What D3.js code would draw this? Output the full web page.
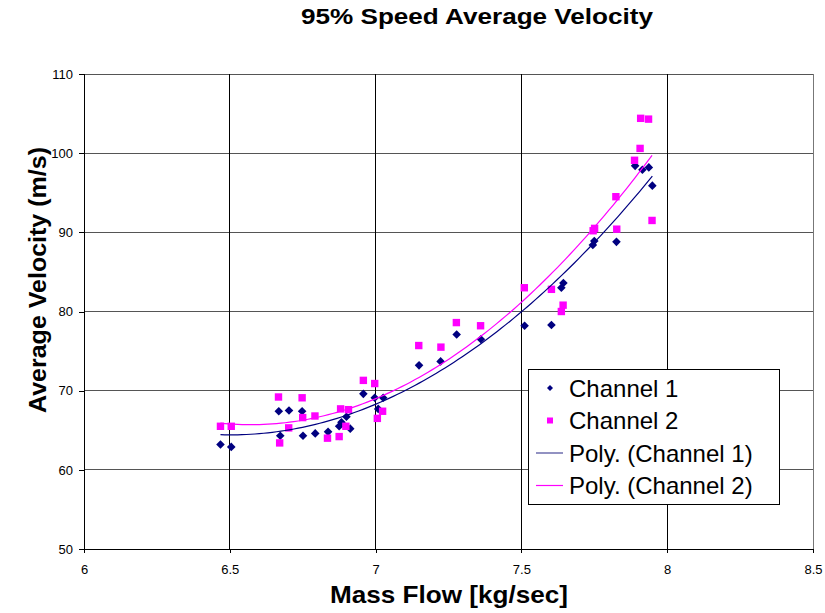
<!DOCTYPE html>
<html>
<head>
<meta charset="utf-8">
<script src="https://cdn.jsdelivr.net/npm/d3@7"></script>
<style>
  body { margin: 0; background: #fff; }
  text { font-family: "Liberation Sans", Arial, sans-serif; }
</style>
</head>
<body>
<svg id="chart" width="825" height="613"></svg>
<script>
// Channel 1 (navy diamonds)
const ch1X = [6.468, 6.505, 6.668, 6.673, 6.703, 6.748, 6.751, 6.793, 6.837, 6.875, 6.883, 6.900, 6.913, 6.958, 6.997, 7.009, 7.026, 7.149, 7.223, 7.278, 7.361, 7.511, 7.603, 7.637, 7.644, 7.745, 7.750, 7.826, 7.890, 7.915, 7.937, 7.949];
const ch1Y = [63.2, 62.9, 67.4, 64.3, 67.5, 67.4, 64.3, 64.6, 64.8, 65.5, 66.0, 66.7, 65.2, 69.6, 69.1, 67.7, 69.1, 73.2, 73.7, 77.1, 76.5, 78.2, 78.3, 83.0, 83.6, 88.4, 88.9, 88.8, 98.4, 97.9, 98.2, 95.9];
// Channel 2 (magenta squares)
const ch2X = [6.468, 6.505, 6.667, 6.671, 6.702, 6.748, 6.750, 6.792, 6.835, 6.875, 6.880, 6.898, 6.907, 6.958, 6.997, 7.006, 7.024, 7.148, 7.224, 7.277, 7.360, 7.510, 7.603, 7.637, 7.643, 7.746, 7.751, 7.824, 7.827, 7.888, 7.907, 7.909, 7.936, 7.948];
const ch2Y = [65.5, 65.5, 69.2, 63.4, 65.3, 69.1, 66.6, 66.8, 64.0, 64.2, 67.7, 65.5, 67.6, 71.3, 70.9, 66.5, 67.4, 75.7, 75.5, 78.6, 78.2, 83.0, 82.8, 80.0, 80.8, 90.2, 90.5, 94.5, 90.4, 99.1, 100.6, 104.4, 104.3, 91.5];

const xTicks = [6, 6.5, 7, 7.5, 8, 8.5];
const yTicks = [50, 60, 70, 80, 90, 100, 110];
const legendLabels = ["Channel 1", "Channel 2", "Poly. (Channel 1)", "Poly. (Channel 2)"];

const navy = "#000080", magenta = "#ff00ff";
const svg = d3.select("#chart");
const plotL = 84, plotR = 813, plotT = 74, plotB = 549;

const x = d3.scaleLinear().domain([6, 8.5]).range([plotL, plotR]);
const y = d3.scaleLinear().domain([50, 110]).range([plotB, plotT]);

// grid
svg.append("g").selectAll("line").data(yTicks).join("line")
  .attr("x1", plotL).attr("x2", plotR)
  .attr("y1", d => y(d)).attr("y2", d => y(d))
  .attr("stroke", d => d === 50 ? "#000" : "#555").attr("stroke-width", 1)
  .attr("shape-rendering", "crispEdges");
svg.append("g").selectAll("line").data(xTicks).join("line")
  .attr("x1", d => x(d)).attr("x2", d => x(d))
  .attr("y1", plotT).attr("y2", plotB)
  .attr("stroke", d => d === 8.5 ? "#777" : "#000").attr("stroke-width", 1)
  .attr("shape-rendering", "crispEdges");

// axes
const xAxis = svg.append("g").attr("transform", `translate(0,${plotB})`)
  .call(d3.axisBottom(x).tickValues(xTicks).tickSize(4).tickPadding(12).tickFormat(d3.format("")));
const yAxis = svg.append("g").attr("transform", `translate(${plotL},0)`)
  .call(d3.axisLeft(y).tickValues(yTicks).tickSize(5).tickPadding(6));
[xAxis, yAxis].forEach(a => {
  a.select(".domain").attr("stroke", "#000").attr("shape-rendering", "crispEdges");
  a.selectAll(".tick line").attr("stroke", "#000").attr("shape-rendering", "crispEdges");
  a.selectAll("text").attr("font-size", 13).attr("fill", "#000")
    .attr("font-family", "'Liberation Sans', Arial, sans-serif");
});

// quadratic least-squares trendline
function polyFit(xs, ys) {
  const m = d3.mean(xs);
  let s = [0, 0, 0, 0, 0], t = [0, 0, 0];
  xs.forEach((xv, i) => {
    const u = xv - m;
    for (let k = 0; k < 5; k++) s[k] += Math.pow(u, k);
    for (let k = 0; k < 3; k++) t[k] += ys[i] * Math.pow(u, k);
  });
  const A = [[s[0], s[1], s[2], t[0]], [s[1], s[2], s[3], t[1]], [s[2], s[3], s[4], t[2]]];
  for (let i = 0; i < 3; i++) {
    for (let j = i + 1; j < 3; j++) {
      const f = A[j][i] / A[i][i];
      for (let k = i; k < 4; k++) A[j][k] -= f * A[i][k];
    }
  }
  const c = [0, 0, 0];
  for (let i = 2; i >= 0; i--) {
    let v = A[i][3];
    for (let k = i + 1; k < 3; k++) v -= A[i][k] * c[k];
    c[i] = v / A[i][i];
  }
  return xv => c[0] + c[1] * (xv - m) + c[2] * (xv - m) * (xv - m);
}

const line = d3.line().x(d => x(d[0])).y(d => y(d[1]));
function drawTrend(xs, ys, color) {
  const f = polyFit(xs, ys);
  const [lo, hi] = d3.extent(xs);
  const pts = d3.range(0, 101).map(i => {
    const xv = lo + (hi - lo) * i / 100;
    return [xv, f(xv)];
  });
  svg.append("path").datum(pts).attr("d", line)
    .attr("fill", "none").attr("stroke", color).attr("stroke-width", 1.2);
}

const diamond = "M0,-4.3L4.3,0L0,4.3L-4.3,0Z";

// points
svg.append("g").selectAll("path").data(ch1X.map((d, i) => [d, ch1Y[i]])).join("path")
  .attr("d", diamond)
  .attr("transform", d => `translate(${x(d[0])},${y(d[1])})`)
  .attr("fill", navy);
svg.append("g").selectAll("rect").data(ch2X.map((d, i) => [d, ch2Y[i]])).join("rect")
  .attr("x", d => x(d[0]) - 3.7).attr("y", d => y(d[1]) - 3.7)
  .attr("width", 7.4).attr("height", 7.4)
  .attr("fill", magenta);

drawTrend(ch1X, ch1Y, navy);
drawTrend(ch2X, ch2Y, magenta);

// legend
const lg = svg.append("g");
lg.append("rect").attr("x", 528.5).attr("y", 369.5).attr("width", 251).attr("height", 135)
  .attr("fill", "#fff").attr("stroke", "#000");
const rowY = [388, 420.5, 453, 485.5];
lg.append("path").attr("d", "M0,-3L3,0L0,3L-3,0Z")
  .attr("transform", `translate(550,${rowY[0]})`).attr("fill", navy);
lg.append("rect").attr("x", 547).attr("y", rowY[1] - 3).attr("width", 6).attr("height", 6).attr("fill", magenta);
lg.append("line").attr("x1", 536).attr("x2", 563).attr("y1", rowY[2]).attr("y2", rowY[2])
  .attr("stroke", "#4a4a9a").attr("stroke-width", 1.2);
lg.append("line").attr("x1", 536).attr("x2", 563).attr("y1", rowY[3]).attr("y2", rowY[3])
  .attr("stroke", magenta).attr("stroke-width", 1.2);
lg.selectAll("text.lab").data(legendLabels).join("text")
  .attr("class", "lab")
  .attr("x", 569).attr("y", (d, i) => rowY[i] + 8.5)
  .attr("font-size", 24).attr("fill", "#000")
  .text(d => d);

// titles
svg.append("text").attr("x", 477).attr("y", 24).attr("text-anchor", "middle")
  .attr("font-size", 22).attr("font-weight", "bold")
  .attr("textLength", 352).attr("lengthAdjust", "spacingAndGlyphs")
  .text("95% Speed Average Velocity");
svg.append("text").attr("x", 449).attr("y", 603).attr("text-anchor", "middle")
  .attr("font-size", 24).attr("font-weight", "bold")
  .attr("textLength", 238).attr("lengthAdjust", "spacingAndGlyphs")
  .text("Mass Flow [kg/sec]");
svg.append("text").attr("transform", "translate(46,280) rotate(-90)").attr("text-anchor", "middle")
  .attr("font-size", 24).attr("font-weight", "bold")
  .attr("textLength", 266).attr("lengthAdjust", "spacingAndGlyphs")
  .text("Average Velocity (m/s)");
</script>
</body>
</html>
